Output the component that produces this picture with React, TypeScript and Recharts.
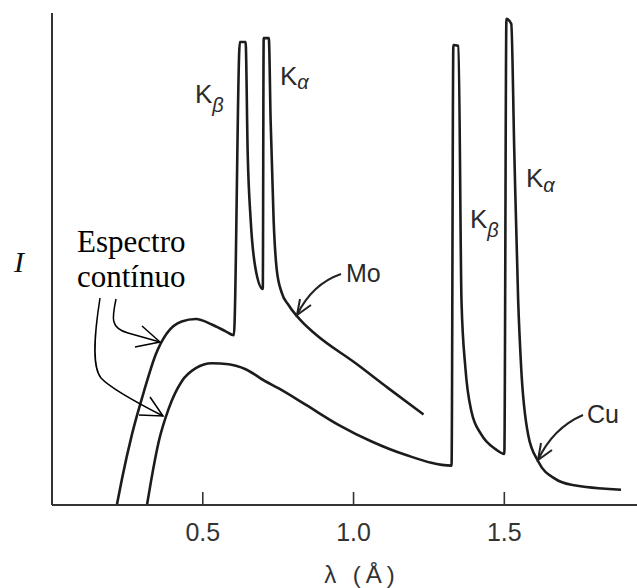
import { LineChart, Line, XAxis, YAxis, ReferenceLine } from 'recharts';

// wavelength (Å) and relative intensity
const moLambda = [
  0.215, 0.232, 0.265, 0.305, 0.344, 0.381, 0.43, 0.477, 0.53, 0.576, 0.603,
  0.623, 0.642, 0.649, 0.659, 0.675, 0.699, 0.702, 0.719, 0.725, 0.735, 0.745,
  0.762, 0.785, 0.828, 0.874, 1.007, 1.116, 1.232,
];
const moIntensity = [
  0, 5.3, 14.3, 23.1, 30.6, 34.9, 37.3, 37.8, 36.7, 35.3, 34.5,
  94.1, 94.1, 71.4, 57.8, 48.0, 43.9, 94.9, 94.9, 78.2, 57.8, 48.0,
  43.1, 40.6, 37.3, 34.7, 28.8, 23.7, 18.4,
];

const cuLambda = [
  0.315, 0.328, 0.354, 0.387, 0.43, 0.477, 0.53, 0.586, 0.642, 0.709, 0.752,
  0.841, 0.95, 1.06, 1.172, 1.325, 1.331, 1.348, 1.358, 1.371, 1.391, 1.424,
  1.47, 1.5, 1.507, 1.523, 1.533, 1.546, 1.556, 1.579, 1.613, 1.669, 1.722, 1.887,
];
const cuIntensity = [
  0, 4.7, 12.9, 19.6, 25.1, 27.8, 28.8, 28.6, 27.6, 25.1, 23.7,
  20.4, 16.3, 12.9, 10.2, 8.0, 93.5, 93.3, 41.4, 27.8, 19.0, 14.3,
  11.4, 10.4, 98.8, 97.8, 72.0, 41.4, 27.8, 14.3, 8.8, 5.3, 4.1, 3.1,
];

const xTicks = [0.5, 1.0, 1.5];
const xTickLabels = ['0.5', '1.0', '1.5'];

const moData = moLambda.map((lambda, i) => ({ lambda, I: moIntensity[i] }));
const cuData = cuLambda.map((lambda, i) => ({ lambda, I: cuIntensity[i] }));

const SANS = '"Liberation Sans", Arial, Helvetica, sans-serif';
const SERIF = '"Liberation Serif", "Times New Roman", serif';
const INK = '#1c1c1c';

function AxisTick({ x, y, payload }: any) {
  const label = xTickLabels[xTicks.indexOf(payload.value)];
  return (
    <g>
      <line x1={x} y1={y - 13} x2={x} y2={y} stroke="#333" strokeWidth={1.6} />
      <text x={x} y={y + 36} textAnchor="middle" fontSize={25} fill="#333" fontFamily={SANS}>
        {label}
      </text>
    </g>
  );
}

function KLabel({ x, y, sub, subDy }: { x: number; y: number; sub: string; subDy: number }) {
  return (
    <text x={x} y={y} fontSize={26} fill="#2a2a2a" fontFamily={SANS}>
      K
      <tspan dy={subDy} fontSize={20} fontStyle="italic">{sub}</tspan>
    </text>
  );
}

function Annotations() {
  return (
    <svg
      width={637}
      height={588}
      style={{ position: 'absolute', left: 0, top: 0, pointerEvents: 'none' }}
    >
      <text x={14} y={272} fontSize={30} fontStyle="italic" fontFamily={SERIF} fill="#111">I</text>
      <text x={77} y={252} fontSize={31} fontFamily={SERIF} fill="#000">Espectro</text>
      <text x={77} y={287} fontSize={31} fontFamily={SERIF} fill="#000">contínuo</text>

      {/* continuum arrows */}
      <g fill="none" stroke="#000" strokeWidth={1.5}>
        <path d="M116,299 C112,318 110,328 128,333 L160,342" />
        <path d="M142,326 L160,342 L135,347" />
        <path d="M100,298 C95,330 91,366 101,378 Q112,390 163,416" />
        <path d="M150,397 L163,416 L139,415" />
      </g>

      <KLabel x={195} y={103} sub="β" subDy={9} />
      <KLabel x={280} y={85} sub="α" subDy={4} />
      <KLabel x={470} y={228} sub="β" subDy={9} />
      <KLabel x={526} y={187} sub="α" subDy={5} />

      <text x={346} y={282} fontSize={25} fill="#2a2a2a" fontFamily={SANS}>Mo</text>
      <text x={587} y={423} fontSize={25} fill="#2a2a2a" fontFamily={SANS}>Cu</text>

      <g fill="none" stroke="#222" strokeWidth={2}>
        <path d="M341,274 Q312,284 297,315" />
        <path d="M300,299 L297,315 L311,305" />
        <path d="M583,415 Q553,428 538,460" />
        <path d="M541,443 L538,460 L552,450" />
      </g>

      <text x={362} y={583} fontSize={24} textAnchor="middle" letterSpacing={5} fill="#333" fontFamily={SANS}>
        λ (Å)
      </text>
    </svg>
  );
}

export default function App() {
  return (
    <div style={{ position: 'absolute', left: 0, top: 0, width: 637, height: 588, background: '#fff' }}>
      <LineChart width={637} height={588} margin={{ top: 13, right: 0, left: 52, bottom: 3 }}>
        <XAxis
          dataKey="lambda"
          type="number"
          domain={[0, 1.94]}
          allowDataOverflow
          ticks={xTicks}
          tick={<AxisTick />}
          tickLine={false}
          tickSize={0}
          tickMargin={0}
          height={80}
          axisLine={{ stroke: '#333', strokeWidth: 2 }}
        />
        <YAxis type="number" domain={[0, 100]} allowDataOverflow hide />
        <ReferenceLine x={0} stroke="#333" strokeWidth={2} />
        <Line
          data={moData}
          dataKey="I"
          type="monotoneX"
          stroke={INK}
          strokeWidth={2.6}
          strokeLinejoin="round"
          dot={false}
          activeDot={false}
          isAnimationActive={false}
        />
        <Line
          data={cuData}
          dataKey="I"
          type="monotoneX"
          stroke={INK}
          strokeWidth={2.6}
          strokeLinejoin="round"
          dot={false}
          activeDot={false}
          isAnimationActive={false}
        />
      </LineChart>
      <Annotations />
    </div>
  );
}
